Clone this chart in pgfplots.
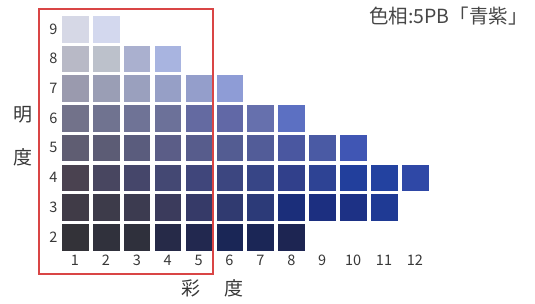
\documentclass[border=0pt]{standalone}
\usepackage{pgfplots}
\pgfplotsset{compat=1.18}
\usepackage{fontspec}
\setmainfont{Noto Sans CJK JP}
\definecolor{txtgray}{HTML}{383838}
\definecolor{boxred}{HTML}{D94545}
% Munsell 5PB chips: name = c<chroma>v<value>
\definecolor{cAvI}{HTML}{D6D8E6}
\definecolor{cBvI}{HTML}{D3D8EE}
\definecolor{cAvH}{HTML}{B8B9C6}
\definecolor{cBvH}{HTML}{BCC1CB}
\definecolor{cCvH}{HTML}{AAB0CF}
\definecolor{cDvH}{HTML}{A8B4E0}
\definecolor{cAvG}{HTML}{9A9AAE}
\definecolor{cBvG}{HTML}{9A9EB5}
\definecolor{cCvG}{HTML}{9AA0BE}
\definecolor{cDvG}{HTML}{969FC6}
\definecolor{cEvG}{HTML}{949ECB}
\definecolor{cFvG}{HTML}{8E9CD6}
\definecolor{cAvF}{HTML}{72728A}
\definecolor{cBvF}{HTML}{707390}
\definecolor{cCvF}{HTML}{6F7396}
\definecolor{cDvF}{HTML}{6C7199}
\definecolor{cEvF}{HTML}{646AA1}
\definecolor{cFvF}{HTML}{6168A6}
\definecolor{cGvF}{HTML}{6670AD}
\definecolor{cHvF}{HTML}{5C70C2}
\definecolor{cAvE}{HTML}{5F5D72}
\definecolor{cBvE}{HTML}{5C5C75}
\definecolor{cCvE}{HTML}{5A5C7D}
\definecolor{cDvE}{HTML}{5B5D87}
\definecolor{cEvE}{HTML}{575C8C}
\definecolor{cFvE}{HTML}{535C92}
\definecolor{cGvE}{HTML}{525C98}
\definecolor{cHvE}{HTML}{4A57A0}
\definecolor{cIvE}{HTML}{4A5AA4}
\definecolor{cJvE}{HTML}{4056B4}
\definecolor{cAvD}{HTML}{4A4250}
\definecolor{cBvD}{HTML}{484660}
\definecolor{cCvD}{HTML}{45466A}
\definecolor{cDvD}{HTML}{444873}
\definecolor{cEvD}{HTML}{40467B}
\definecolor{cFvD}{HTML}{3C4680}
\definecolor{cGvD}{HTML}{374586}
\definecolor{cHvD}{HTML}{31408B}
\definecolor{cIvD}{HTML}{2E4394}
\definecolor{cJvD}{HTML}{223F9C}
\definecolor{cKvD}{HTML}{2342A0}
\definecolor{cLvD}{HTML}{2F48A6}
\definecolor{cAvC}{HTML}{403B47}
\definecolor{cBvC}{HTML}{3D3B4A}
\definecolor{cCvC}{HTML}{3C3B50}
\definecolor{cDvC}{HTML}{3B3B5C}
\definecolor{cEvC}{HTML}{363A68}
\definecolor{cFvC}{HTML}{303A70}
\definecolor{cGvC}{HTML}{2C3A78}
\definecolor{cHvC}{HTML}{1B2E7A}
\definecolor{cIvC}{HTML}{1C2F80}
\definecolor{cJvC}{HTML}{1D3185}
\definecolor{cKvC}{HTML}{1F3A94}
\definecolor{cAvB}{HTML}{333238}
\definecolor{cBvB}{HTML}{30313C}
\definecolor{cCvB}{HTML}{2F303C}
\definecolor{cDvB}{HTML}{262A48}
\definecolor{cEvB}{HTML}{22284F}
\definecolor{cFvB}{HTML}{1A2656}
\definecolor{cGvB}{HTML}{1B2656}
\definecolor{cHvB}{HTML}{1D2552}
\pgfplotsset{chip/.style={only marks, mark=square*, mark size=12.8pt, color=#1, mark options={fill=#1, draw=#1}}}
\begin{document}
\begin{tikzpicture}
\useasboundingbox (-59.55pt,-52.15pt) rectangle (475.45pt,251.85pt);
\begin{axis}[
  at={(0,0)}, anchor=origin,
  scale only axis, width=370.8pt, height=237.6pt,
  xmin=0.5, xmax=12.5, ymin=1.5, ymax=9.5,
  xtick={1,...,12}, ytick={2,...,9},
  axis line style={draw=none}, major tick length=0pt,
  ticklabel style={font=\fontsize{14.5}{17}\selectfont, text=txtgray},
  yticklabel shift=-1.5pt,
  /pgf/number format/assume math mode=true,
  clip=false,
]
\addplot[chip=cAvI] coordinates {(1,9)};
\addplot[chip=cBvI] coordinates {(2,9)};
\addplot[chip=cAvH] coordinates {(1,8)};
\addplot[chip=cBvH] coordinates {(2,8)};
\addplot[chip=cCvH] coordinates {(3,8)};
\addplot[chip=cDvH] coordinates {(4,8)};
\addplot[chip=cAvG] coordinates {(1,7)};
\addplot[chip=cBvG] coordinates {(2,7)};
\addplot[chip=cCvG] coordinates {(3,7)};
\addplot[chip=cDvG] coordinates {(4,7)};
\addplot[chip=cEvG] coordinates {(5,7)};
\addplot[chip=cFvG] coordinates {(6,7)};
\addplot[chip=cAvF] coordinates {(1,6)};
\addplot[chip=cBvF] coordinates {(2,6)};
\addplot[chip=cCvF] coordinates {(3,6)};
\addplot[chip=cDvF] coordinates {(4,6)};
\addplot[chip=cEvF] coordinates {(5,6)};
\addplot[chip=cFvF] coordinates {(6,6)};
\addplot[chip=cGvF] coordinates {(7,6)};
\addplot[chip=cHvF] coordinates {(8,6)};
\addplot[chip=cAvE] coordinates {(1,5)};
\addplot[chip=cBvE] coordinates {(2,5)};
\addplot[chip=cCvE] coordinates {(3,5)};
\addplot[chip=cDvE] coordinates {(4,5)};
\addplot[chip=cEvE] coordinates {(5,5)};
\addplot[chip=cFvE] coordinates {(6,5)};
\addplot[chip=cGvE] coordinates {(7,5)};
\addplot[chip=cHvE] coordinates {(8,5)};
\addplot[chip=cIvE] coordinates {(9,5)};
\addplot[chip=cJvE] coordinates {(10,5)};
\addplot[chip=cAvD] coordinates {(1,4)};
\addplot[chip=cBvD] coordinates {(2,4)};
\addplot[chip=cCvD] coordinates {(3,4)};
\addplot[chip=cDvD] coordinates {(4,4)};
\addplot[chip=cEvD] coordinates {(5,4)};
\addplot[chip=cFvD] coordinates {(6,4)};
\addplot[chip=cGvD] coordinates {(7,4)};
\addplot[chip=cHvD] coordinates {(8,4)};
\addplot[chip=cIvD] coordinates {(9,4)};
\addplot[chip=cJvD] coordinates {(10,4)};
\addplot[chip=cKvD] coordinates {(11,4)};
\addplot[chip=cLvD] coordinates {(12,4)};
\addplot[chip=cAvC] coordinates {(1,3)};
\addplot[chip=cBvC] coordinates {(2,3)};
\addplot[chip=cCvC] coordinates {(3,3)};
\addplot[chip=cDvC] coordinates {(4,3)};
\addplot[chip=cEvC] coordinates {(5,3)};
\addplot[chip=cFvC] coordinates {(6,3)};
\addplot[chip=cGvC] coordinates {(7,3)};
\addplot[chip=cHvC] coordinates {(8,3)};
\addplot[chip=cIvC] coordinates {(9,3)};
\addplot[chip=cJvC] coordinates {(10,3)};
\addplot[chip=cKvC] coordinates {(11,3)};
\addplot[chip=cAvB] coordinates {(1,2)};
\addplot[chip=cBvB] coordinates {(2,2)};
\addplot[chip=cCvB] coordinates {(3,2)};
\addplot[chip=cDvB] coordinates {(4,2)};
\addplot[chip=cEvB] coordinates {(5,2)};
\addplot[chip=cFvB] coordinates {(6,2)};
\addplot[chip=cGvB] coordinates {(7,2)};
\addplot[chip=cHvB] coordinates {(8,2)};
\draw[boxred, line width=1.3pt] (axis cs:-0.165,0.754) rectangle (axis cs:5.466,9.677);
\end{axis}
\begin{scope}[shift={(-59.55pt,251.85pt)}, x=1pt, y=-1pt]
\node[font=\fontsize{19}{22}\selectfont, text=txtgray] at (23,115) {明};
\node[font=\fontsize{19}{22}\selectfont, text=txtgray] at (23,157) {度};
\node[font=\fontsize{19}{22}\selectfont, text=txtgray] at (191,288) {彩};
\node[font=\fontsize{19}{22}\selectfont, text=txtgray] at (234,288) {度};
\node[font=\fontsize{19.5}{22}\selectfont, text=black!72, anchor=east, inner sep=0pt] at (528,16.5) {色相:5PB「青紫」};
\end{scope}
\end{tikzpicture}
\end{document}
